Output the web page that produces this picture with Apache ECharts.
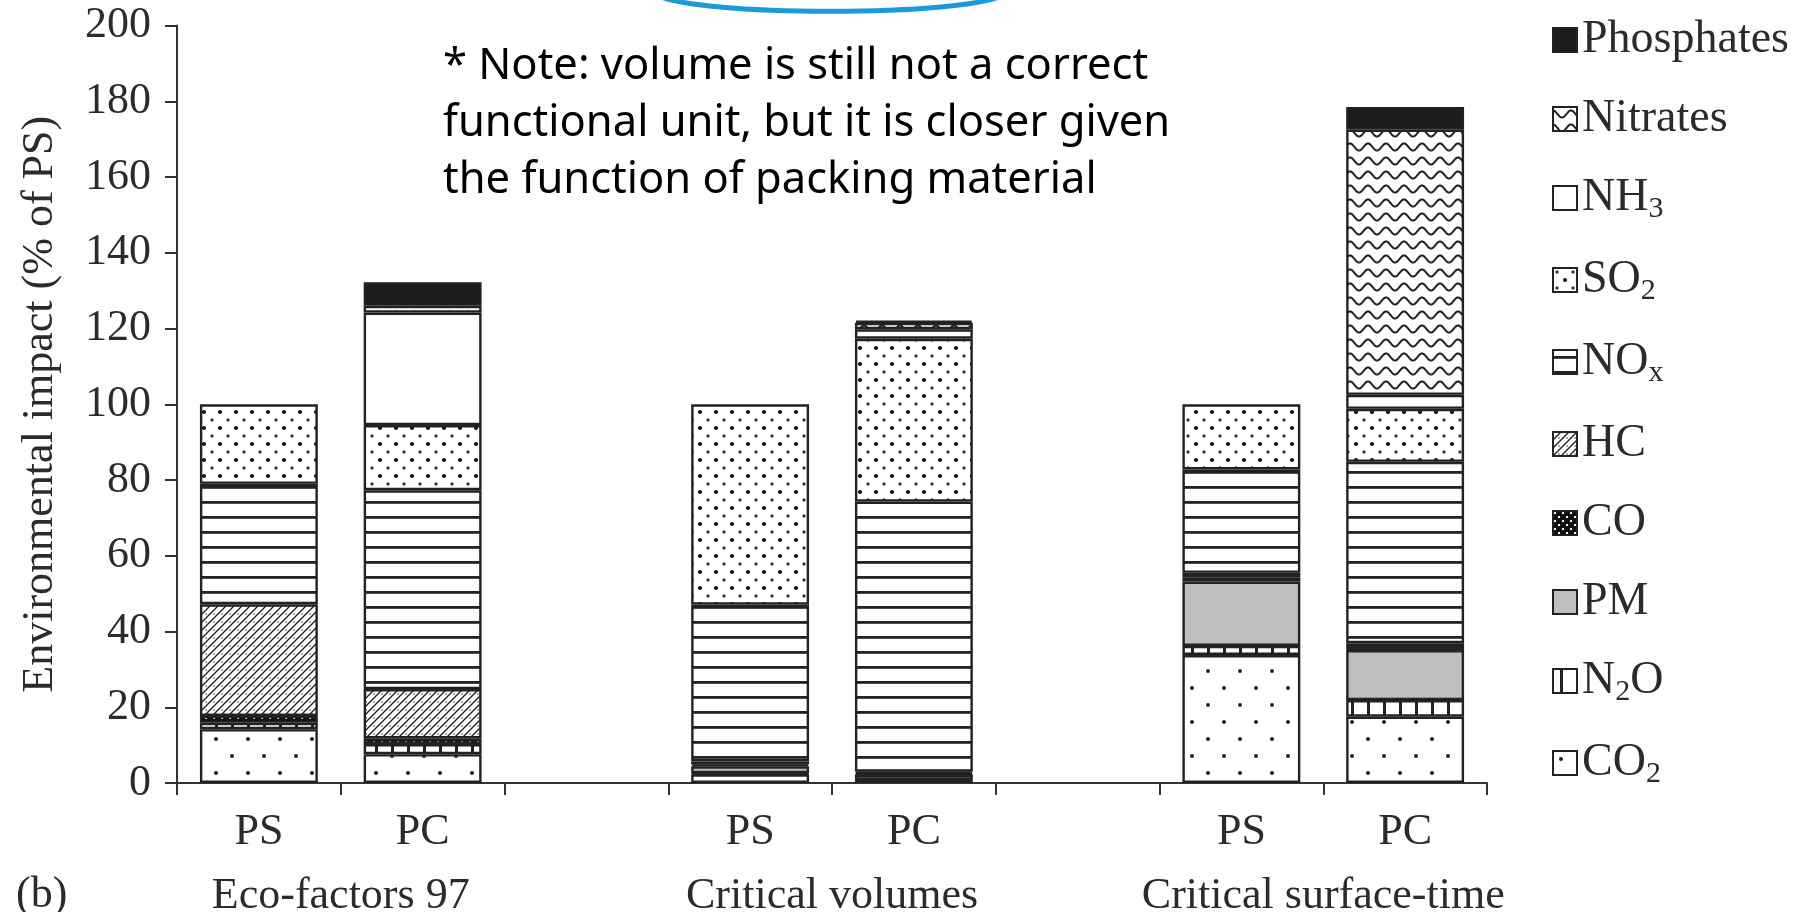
<!DOCTYPE html>
<html><head><meta charset="utf-8">
<script src="https://cdn.jsdelivr.net/npm/echarts@6.0.0/dist/echarts.min.js"></script>
<style>html,body{margin:0;padding:0;background:#fff}#c{width:1816px;height:912px}</style>
</head><body><div id="c"></div>
<script>
// ---- data ----
const categories = ['PS', 'PC', '', 'PS', 'PC', '', 'PS', 'PC'];
const groupLabels = ['Eco-factors 97', 'Critical volumes', 'Critical surface-time'];
const groupCenters = [1, 4, 7];
const yMin = 0, yMax = 200, yInterval = 20;
const CO2 =        [14.2, 7.6, '-', 2.3, 0.7, '-', 33.8, 17.5];
const N2O =        [1.7, 2.7, '-', 0.3, 0.2, '-', 2.4, 4.4];
const PM =         [0, 0, '-', 1.8, 1.3, '-', 17.0, 13.2];
const CO =         [1.8, 1.5, '-', 0.5, 0.3, '-', 1.0, 0.8];
const HC =         [29.5, 13.0, '-', 0.8, 0.5, '-', 1.3, 1.0];
const NOx =        [31.8, 52.5, '-', 41.4, 71.3, '-', 27.3, 47.9];
const SO2 =        [21.0, 17.2, '-', 52.9, 43.0, '-', 17.2, 14.0];
const NH3 =        [0, 29.7, '-', 0, 2.5, '-', 0, 3.7];
const Nitrates =   [0, 1.8, '-', 0, 1.7, '-', 0, 70.0];
const Phosphates = [0, 6.2, '-', 0, 0.6, '-', 0, 6.0];
const seriesNames = ['CO2', 'N2O', 'PM', 'CO', 'HC', 'NOx', 'SO2', 'NH3', 'Nitrates', 'Phosphates'];
const seriesValues = [CO2, N2O, PM, CO, HC, NOx, SO2, NH3, Nitrates, Phosphates];
const legendOrder = ['Phosphates', 'Nitrates', 'NH3', 'SO2', 'NOx', 'HC', 'CO', 'PM', 'N2O', 'CO2'];
const legendRich = {
  NH3: '{t|NH}{s|3}', SO2: '{t|SO}{s|2}', NOx: '{t|NO}{s|x}', N2O: '{t|N}{s|2}{t|O}', CO2: '{t|CO}{s|2}'
};
const noteText = '* Note: volume is still not a correct\nfunctional unit, but it is closer given\nthe function of packing material';

// ---- patterns ----
const ink = '#222';
function pat(w, h, draw) {
  const c = document.createElement('canvas');
  c.width = w; c.height = h;
  const g = c.getContext('2d');
  g.fillStyle = '#fff'; g.fillRect(0, 0, w, h);
  draw(g, w, h);
  return { image: c, repeat: 'repeat' };
}
function dot(g, x, y, r, col) { g.fillStyle = col || ink; g.beginPath(); g.arc(x, y, r, 0, Math.PI * 2); g.fill(); }
const fills = {
  CO2: pat(32, 34, g => { dot(g, 8, 8, 2.0); dot(g, 24, 25, 2.0); }),
  N2O: pat(16, 16, g => { g.fillStyle = ink; g.fillRect(7, 0, 3, 16); }),
  PM: '#bebebe',
  CO: pat(8, 8, g => { g.fillStyle = '#111'; g.fillRect(0, 0, 8, 8); g.fillStyle = '#fff'; g.fillRect(1, 1, 2, 2); g.fillRect(5, 5, 2, 2); }),
  HC: pat(8, 8, g => {
    g.strokeStyle = ink; g.lineWidth = 1.4; g.beginPath();
    g.moveTo(-2, 10); g.lineTo(10, -2); g.moveTo(-2, 2); g.lineTo(2, -2); g.moveTo(6, 10); g.lineTo(10, 6); g.stroke();
    dot(g, 6, 6, 0.8, '#444');
  }),
  NOx: pat(4, 15, g => { g.fillStyle = ink; g.fillRect(0, 6, 4, 2.8); }),
  SO2: pat(16, 16, g => { dot(g, 4, 4, 1.7, '#3a3a3a'); dot(g, 12, 12, 2.1, '#111'); }),
  NH3: '#ffffff',
  Nitrates: pat(18, 14, g => {
    g.strokeStyle = ink; g.lineWidth = 2; g.beginPath();
    for (let x = -1; x <= 19; x += 0.5) { const y = 7 - 3.5 * Math.cos(2 * Math.PI * x / 18); if (x === -1) g.moveTo(x, y); else g.lineTo(x, y); }
    g.stroke();
  }),
  Phosphates: '#1c1c1c'
};

const serif = 'Liberation Serif';
const txt = '#2b2b2b';
const series = seriesNames.map((name, i) => ({
  name: name,
  type: 'bar',
  stack: 'total',
  barWidth: '72%',
  xAxisIndex: 0,
  data: seriesValues[i].map(v => (v === 0 ? '-' : v)),
  itemStyle: { color: fills[name], borderColor: ink, borderWidth: 2.4 },
  emphasis: { disabled: true }
}));

const chart = echarts.init(document.getElementById('c'), null, { renderer: 'canvas' });
chart.setOption({
  animation: false,
  backgroundColor: '#fff',
  grid: { left: 177, right: 329, top: 25.5, bottom: 129, outerBoundsMode: 'none', containLabel: false },
  xAxis: [{
    type: 'category', data: categories, position: 'bottom',
    axisLine: { lineStyle: { color: '#333', width: 2 } },
    axisTick: { show: true, length: 12, lineStyle: { color: '#333', width: 2 } },
    axisLabel: { fontFamily: serif, fontSize: 44, color: txt, margin: 27, interval: 0 },
    splitLine: { show: false }
  }, {
    type: 'value', min: 0, max: categories.length, interval: 1, position: 'bottom', offset: 69,
    axisLine: { show: false }, axisTick: { show: false }, splitLine: { show: false },
    axisLabel: {
      fontFamily: serif, fontSize: 44, color: txt, margin: 22, showMinLabel: true, showMaxLabel: true,
      formatter: v => { const k = groupCenters.indexOf(v); return k >= 0 ? groupLabels[k] : ''; }
    }
  }],
  yAxis: {
    type: 'value', min: yMin, max: yMax, interval: yInterval,
    name: 'Environmental impact (% of PS)', nameLocation: 'middle', nameGap: 115,
    nameTextStyle: { fontFamily: serif, fontSize: 44, color: txt },
    axisLine: { show: true, lineStyle: { color: '#333', width: 2 } },
    axisTick: { show: true, length: 12, lineStyle: { color: '#333', width: 2 } },
    axisLabel: { fontFamily: serif, fontSize: 44, color: txt, margin: 26 },
    splitLine: { show: false }
  },
  legend: {
    orient: 'vertical', left: 1547, top: 12, itemWidth: 24, itemHeight: 24, itemGap: 33,
    icon: 'rect', data: legendOrder, selectedMode: false,
    itemStyle: { borderColor: ink, borderWidth: 2 },
    formatter: n => legendRich[n] || ('{t|' + n + '}'),
    textStyle: {
      rich: {
        t: { fontFamily: serif, fontSize: 46, color: txt, lineHeight: 52 },
        s: { fontFamily: serif, fontSize: 30, color: txt, lineHeight: 20, verticalAlign: 'bottom' }
      }
    }
  },
  graphic: [
    { type: 'text', left: 443, top: 38, style: { text: noteText, font: '43.5px "Noto Sans"', fill: '#000', lineHeight: 57 } },
    { type: 'text', left: 16, top: 873, style: { text: '(b)', font: '44px "Liberation Serif"', fill: txt } },
    { type: 'bezierCurve', shape: { x1: 655, y1: -6, cpx1: 690, cpy1: 17, cpx2: 970, cpy2: 17, x2: 1005, y2: -6 },
      style: { fill: 'none', stroke: '#1a9bd8', lineWidth: 5 }, silent: true }
  ],
  series: series
});
</script></body></html>
